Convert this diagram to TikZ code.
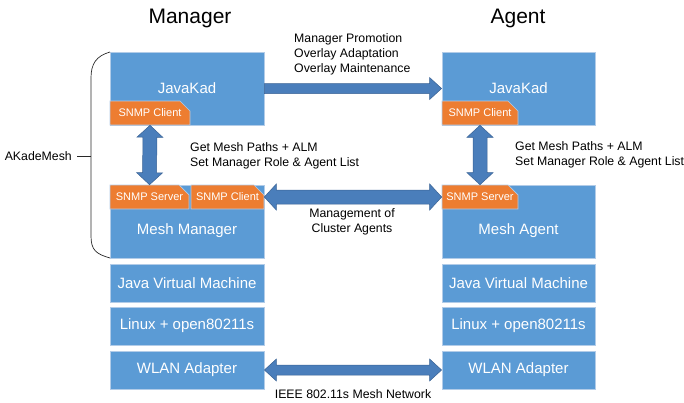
\documentclass[tikz,border=0pt]{standalone}
\usepackage{fontspec}
\setmainfont{Liberation Sans}
\usetikzlibrary{calc,shapes.misc}

\definecolor{boxblue}{RGB}{91,155,213}
\definecolor{boxedge}{RGB}{178,204,232}
\definecolor{snmporange}{RGB}{237,125,49}
\definecolor{arrowfill}{RGB}{74,126,187}
\definecolor{arrowedge}{RGB}{58,98,148}
\definecolor{bracegray}{RGB}{40,40,40}

% Block arrow with a head at both ends: #1 -> #2, shaft half width #3, head half width #4
\newcommand{\fatdouble}[4]{%
  \coordinate (fa1) at ($(#1)!12pt!(#2)$);
  \coordinate (fa2) at ($(#2)!12pt!(#1)$);
  \draw[fatarrow] (#1) -- ($(fa1)!#4!90:(#2)$) -- ($(fa1)!#3!90:(#2)$)
    -- ($(fa2)!#3!-90:(#1)$) -- ($(fa2)!#4!-90:(#1)$) -- (#2)
    -- ($(fa2)!#4!90:(#1)$) -- ($(fa2)!#3!90:(#1)$)
    -- ($(fa1)!#3!-90:(#2)$) -- ($(fa1)!#4!-90:(#2)$) -- cycle;}
% Block arrow with a head at the end only
\newcommand{\fatsingle}[4]{%
  \coordinate (fa2) at ($(#2)!12pt!(#1)$);
  \draw[fatarrow] ($(#1)!#3!90:(#2)$)
    -- ($(fa2)!#3!-90:(#1)$) -- ($(fa2)!#4!-90:(#1)$) -- (#2)
    -- ($(fa2)!#4!90:(#1)$) -- ($(fa2)!#3!90:(#1)$)
    -- ($(#1)!#3!-90:(#2)$) -- cycle;}

\begin{document}
\begin{tikzpicture}[x=1pt,y=-1pt,
  layer/.style={draw=boxedge, line width=0.8pt, fill=boxblue, text=white,
    font=\fontsize{15}{17}\selectfont, inner sep=0pt},
  snmp/.style={chamfered rectangle, chamfered rectangle corners=north east,
    chamfered rectangle xsep=6pt, chamfered rectangle ysep=6pt,
    draw=boxedge, line width=0.6pt, fill=snmporange, text=white,
    font=\fontsize{11}{13}\selectfont, inner sep=0pt, minimum height=24pt},
  boxlabel/.style={text=white, font=\fontsize{15}{17}\selectfont, inner sep=0pt},
  note/.style={font=\fontsize{12.3}{15}\selectfont, align=left, inner sep=0pt},
  heading/.style={font=\fontsize{21}{25}\selectfont, inner sep=0pt},
  fatarrow/.style={fill=arrowfill, draw=arrowedge, line width=0.5pt, line join=miter}]

\useasboundingbox (0,0) rectangle (684,402);

% column headings
\node[heading] (hM) at (190,18) {Manager};
\node[heading] (hA) at (518,18) {Agent};

% manager stack
\node[layer, minimum width=154pt, minimum height=73pt] (jkM) at (187,88.5) {};
\node[boxlabel] (jkMt) at (187,88) {JavaKad};
\node[snmp, minimum width=80pt] (jkcM) at (150,113) {SNMP Client};
\node[layer, minimum width=154pt, minimum height=73pt] (mmM) at (187,221.5) {};
\node[boxlabel] (mmMt) at (187,231) {Mesh Manager};
\node[snmp, minimum width=79pt] (mssM) at (149.5,197) {SNMP Server};
\node[snmp, minimum width=73pt] (mscM) at (227.5,197) {SNMP Client};
\node[layer, minimum width=154pt, minimum height=38pt] (jvmM) at (187,283) {Java Virtual Machine};
\node[layer, minimum width=154pt, minimum height=38pt] (linM) at (187,326) {Linux + open80211s};
\node[layer, minimum width=154pt, minimum height=38pt] (wlM) at (187,370) {WLAN Adapter};

% agent stack
\node[layer, minimum width=153pt, minimum height=73pt] (jkA) at (518.5,88.5) {};
\node[boxlabel] (jkAt) at (518.5,88) {JavaKad};
\node[snmp, minimum width=76pt] (jkcA) at (480,113) {SNMP Client};
\node[layer, minimum width=153pt, minimum height=73pt] (maA) at (518.5,221.5) {};
\node[boxlabel] (maAt) at (518.5,231) {Mesh Agent};
\node[snmp, minimum width=76pt] (mssA) at (480,197) {SNMP Server};
\node[layer, minimum width=153pt, minimum height=38pt] (jvmA) at (518.5,283) {Java Virtual Machine};
\node[layer, minimum width=153pt, minimum height=38pt] (linA) at (518.5,326) {Linux + open80211s};
\node[layer, minimum width=153pt, minimum height=38pt] (wlA) at (518.5,370) {WLAN Adapter};

% connectors
\fatsingle{jkM.east}{jkA.west}{5pt}{11pt}
\fatdouble{jkcM.south}{mssM.north}{7pt}{13pt}
\fatdouble{jkcA.south}{mssA.north}{7pt}{13pt}
\fatdouble{mscM.east}{mssA.west}{7pt}{13pt}
\fatdouble{wlM.east}{wlA.west}{5pt}{11pt}

% connector labels
\node[note, anchor=west] (promo) at (294,54) {Manager Promotion\\Overlay Adaptation\\Overlay Maintenance};
\node[note, anchor=west] (getM) at (190,155.5) {Get Mesh Paths + ALM\\Set Manager Role \& Agent List};
\node[note, anchor=west] (getA) at (515,155) {Get Mesh Paths + ALM\\Set Manager Role \& Agent List};
\node[note, align=center] (mgmt) at (352,221.5) {Management of\\Cluster Agents};
\node[note] (ieee) at (353,394) {IEEE 802.11s Mesh Network};

% bracket grouping the AKadeMesh components
\node[note, anchor=east] (akm) at (72,156) {AKadeMesh};
\coordinate (bmid) at (91,156);
\draw[bracegray, line width=0.7pt] (110,52) .. controls (96,56) and (91,64) .. (91,78)
  -- (91,236) .. controls (91,250) and (96,254) .. (110,258);
\draw[bracegray, line width=0.7pt] ($(akm.east)+(5,0)$) -- (bmid);
\end{tikzpicture}
\end{document}
